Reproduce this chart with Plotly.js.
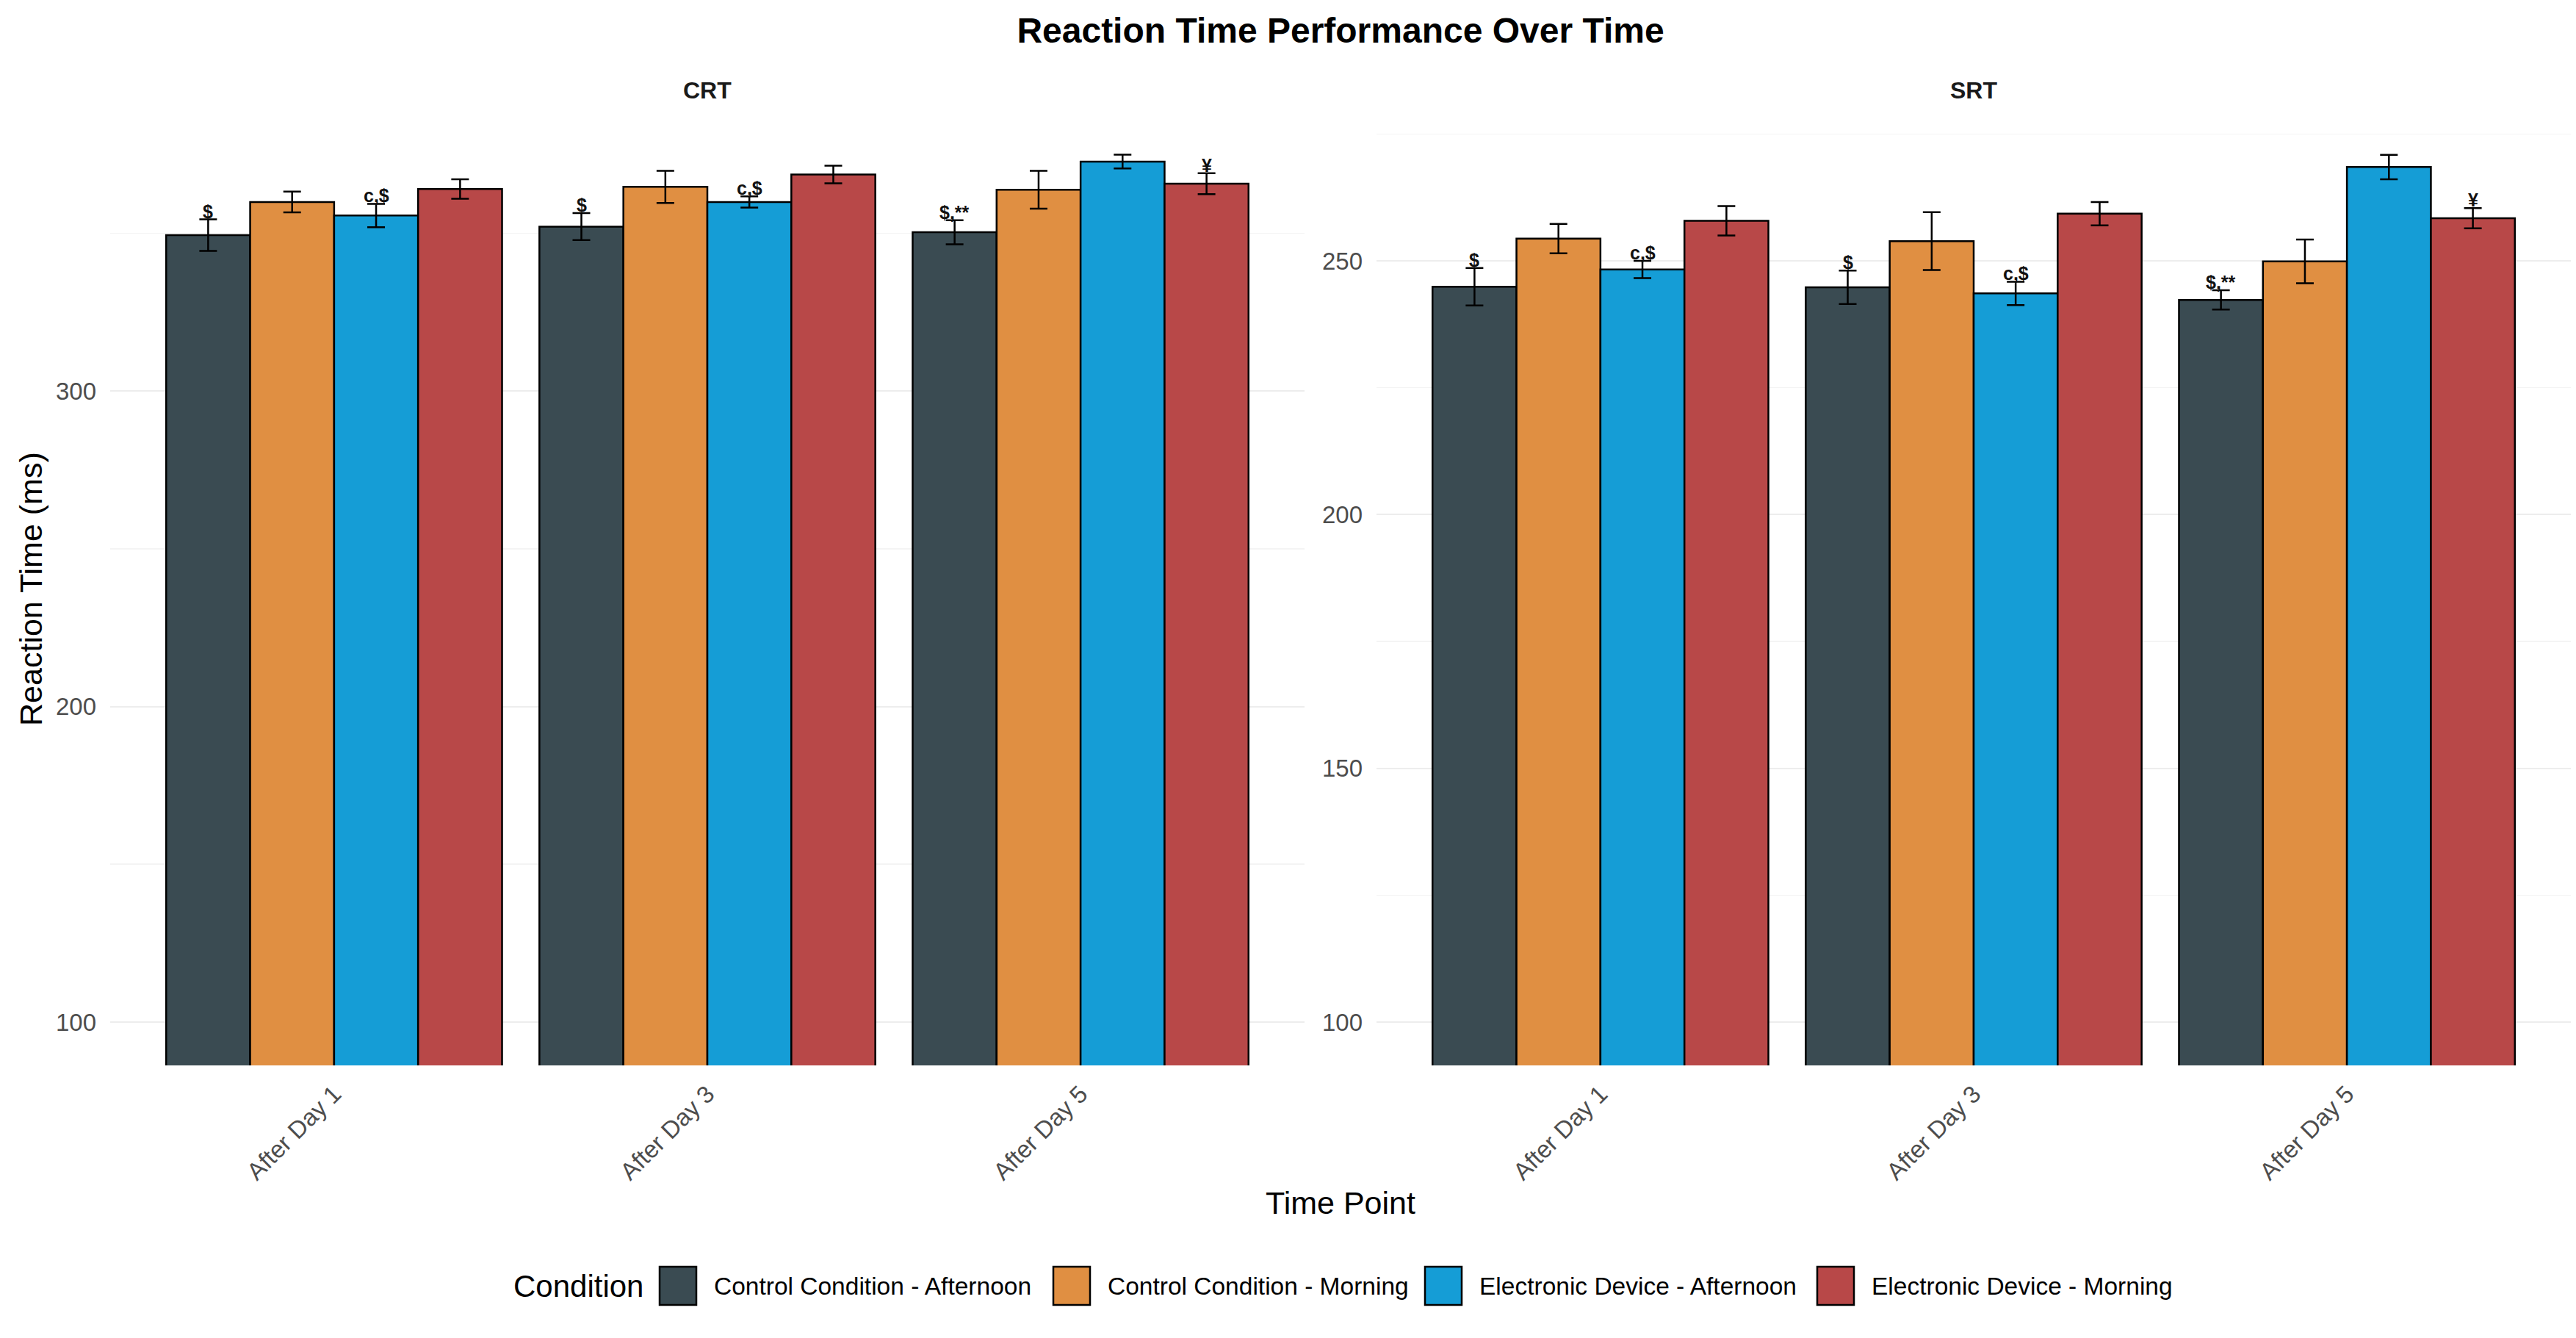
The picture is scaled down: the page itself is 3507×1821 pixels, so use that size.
<!DOCTYPE html>
<html>
<head>
<meta charset="utf-8">
<script src="https://cdn.plot.ly/plotly-3.0.1.min.js"></script>
<style>html,body{margin:0;padding:0;background:#fff;}#chart{width:3507px;height:1821px;}</style>
</head>
<body>
<div id="chart"></div>
<script>
// ---- data ----
var timePoints = ["After Day 1", "After Day 3", "After Day 5"];
var conditions = ["Control Condition - Afternoon", "Control Condition - Morning", "Electronic Device - Afternoon", "Electronic Device - Morning"];
var colors = ["#3a4b52", "#e08f42", "#159dd6", "#b84848"];

// CRT means / standard errors, one array per condition (values over timePoints)
var crtCtrlAft = [349.4, 352.1, 350.3];
var crtCtrlMor = [359.9, 364.7, 363.8];
var crtElecAft = [355.6, 359.9, 372.7];
var crtElecMor = [364.0, 368.6, 365.7];
var crtCtrlAftSE = [5.0, 4.3, 3.8];
var crtCtrlMorSE = [3.3, 5.1, 6.0];
var crtElecAftSE = [3.7, 1.8, 2.2];
var crtElecMorSE = [3.1, 2.8, 3.3];

// SRT means / standard errors
var srtCtrlAft = [244.9, 244.8, 242.3];
var srtCtrlMor = [254.4, 253.9, 249.9];
var srtElecAft = [248.3, 243.6, 268.5];
var srtElecMor = [257.9, 259.3, 258.4];
var srtCtrlAftSE = [3.7, 3.3, 1.9];
var srtCtrlMorSE = [2.9, 5.7, 4.3];
var srtElecAftSE = [1.7, 2.3, 2.4];
var srtElecMorSE = [2.9, 2.3, 2.0];

// significance labels
var lblCtrlAft = ["$", "$", "$,**"];
var lblCtrlMor = ["", "", ""];
var lblElecAft = ["c,$", "c,$", ""];
var lblElecMor = ["", "", "¥"];

var crtTickVals = [100, 200, 300];
var srtTickVals = [100, 150, 200, 250];

// ---- build ----
var crtMeans = [crtCtrlAft, crtCtrlMor, crtElecAft, crtElecMor];
var crtSEs = [crtCtrlAftSE, crtCtrlMorSE, crtElecAftSE, crtElecMorSE];
var srtMeans = [srtCtrlAft, srtCtrlMor, srtElecAft, srtElecMor];
var srtSEs = [srtCtrlAftSE, srtCtrlMorSE, srtElecAftSE, srtElecMorSE];
var labels = [lblCtrlAft, lblCtrlMor, lblElecAft, lblElecMor];

var W = 3507, H = 1821;
function px(x) { return x / W; }
function py(y) { return 1 - y / H; }

var FONT = "Liberation Sans, Arial, Helvetica, sans-serif";
var traces = [];
var annotations = [];

function addPanel(means, ses, xa, ya) {
  for (var i = 0; i < conditions.length; i++) {
    traces.push({
      type: "bar",
      name: conditions[i],
      x: timePoints,
      y: means[i],
      xaxis: xa, yaxis: ya,
      marker: { color: colors[i], line: { color: "#000000", width: 2.5 } },
      error_y: { type: "data", array: ses[i], visible: true, color: "#000000", thickness: 2.5, width: 12 },
      showlegend: false,
      hoverinfo: "x+y+name"
    });
    for (var j = 0; j < timePoints.length; j++) {
      if (labels[i][j]) {
        annotations.push({
          xref: xa, yref: ya,
          x: j - 0.3375 + i * 0.225,
          y: means[i][j] + ses[i][j],
          text: "<b>" + labels[i][j] + "</b>",
          showarrow: false,
          xanchor: "center", yanchor: "bottom",
          yshift: -5,
          font: { family: FONT, size: 25, color: "#111111" }
        });
      }
    }
  }
}
addPanel(crtMeans, crtSEs, "x", "y");
addPanel(srtMeans, srtSEs, "x2", "y2");

// strip labels
annotations.push({ xref: "paper", yref: "paper", x: px(963), y: py(123), text: "<b>CRT</b>", showarrow: false, xanchor: "center", yanchor: "middle", font: { family: FONT, size: 32, color: "#1a1a1a" } });
annotations.push({ xref: "paper", yref: "paper", x: px(2687), y: py(123), text: "<b>SRT</b>", showarrow: false, xanchor: "center", yanchor: "middle", font: { family: FONT, size: 32, color: "#1a1a1a" } });
// axis titles
annotations.push({ xref: "paper", yref: "paper", x: px(42), y: py(802), text: "Reaction Time (ms)", textangle: -90, showarrow: false, xanchor: "center", yanchor: "middle", font: { family: FONT, size: 43, color: "#000000" } });
annotations.push({ xref: "paper", yref: "paper", x: px(1825), y: py(1637), text: "Time Point", showarrow: false, xanchor: "center", yanchor: "middle", font: { family: FONT, size: 43, color: "#000000" } });

// legend (drawn manually so the keys match the reference size)
var legendKeyX = [898, 1434, 1940, 2474];
var legendTop = 1724, legendBot = 1776, legendMid = 1750;
var shapes = [];
annotations.push({ xref: "paper", yref: "paper", x: px(697), y: py(legendMid), text: "Condition", showarrow: false, xanchor: "left", yanchor: "middle", font: { family: FONT, size: 42, color: "#000000" } });
for (var k = 0; k < conditions.length; k++) {
  shapes.push({ type: "rect", xref: "paper", yref: "paper", x0: px(legendKeyX[k]), x1: px(legendKeyX[k] + 50), y0: py(legendBot), y1: py(legendTop), fillcolor: colors[k], line: { color: "#000000", width: 2.5 } });
  annotations.push({ xref: "paper", yref: "paper", x: px(legendKeyX[k] + 72), y: py(legendMid), text: conditions[k], showarrow: false, xanchor: "left", yanchor: "middle", font: { family: FONT, size: 33.5, color: "#000000" } });
}

var yDom = [py(1450), py(151)];
function xAxis(dom) {
  return {
    domain: dom, type: "category", range: [-0.6, 2.6],
    showgrid: false, zeroline: false, showline: false, ticks: "",
    tickangle: -45, ticklabelstandoff: 12,
    tickfont: { family: FONT, size: 33, color: "#4d4d4d" }
  };
}
function yAxis(dom, range, tickvals, minorDtick, anchor) {
  return {
    domain: dom, range: range, anchor: anchor,
    tickmode: "array", tickvals: tickvals,
    showgrid: true, gridcolor: "#ededed", gridwidth: 2,
    minor: { dtick: minorDtick, tick0: 0, showgrid: true, gridcolor: "#f4f4f4", gridwidth: 1.5 },
    zeroline: false, showline: false, ticks: "",
    ticklabelstandoff: 18,
    tickfont: { family: FONT, size: 33, color: "#4d4d4d" }
  };
}

var layout = {
  width: W, height: H,
  margin: { l: 0, r: 0, t: 0, b: 0, pad: 0 },
  paper_bgcolor: "#ffffff", plot_bgcolor: "#ffffff",
  barmode: "group", bargap: 0.1, bargroupgap: 0,
  showlegend: false,
  title: { text: "<b>Reaction Time Performance Over Time</b>", x: px(1825), xanchor: "center", xref: "container", y: py(41), yanchor: "middle", yref: "container", font: { family: FONT, size: 48, color: "#000000" } },
  xaxis: xAxis([px(150), px(1776)]),
  yaxis: yAxis(yDom, [86.25, 388.75], crtTickVals, 50, "x"),
  xaxis2: Object.assign(xAxis([px(1874), px(3500)]), { anchor: "y2" }),
  yaxis2: yAxis(yDom, [91.45, 279.55], srtTickVals, 25, "x2"),
  annotations: annotations,
  shapes: shapes,
  font: { family: FONT }
};
layout.xaxis.anchor = "y";

Plotly.newPlot("chart", traces, layout, { staticPlot: true, displayModeBar: false });
</script>
</body>
</html>
